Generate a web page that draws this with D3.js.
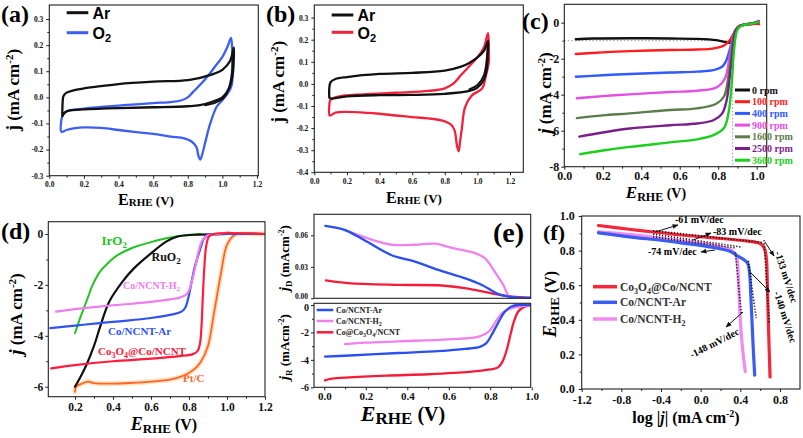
<!DOCTYPE html>
<html><head><meta charset="utf-8">
<script src="https://cdn.jsdelivr.net/npm/d3@7"></script>
<style>body{margin:0;background:#fff}svg{display:block}</style>
</head><body><script>
// ================= DATA =================
// (a) CV, Co3O4@Co/NCNT in Ar / O2
const aTicksX=[0,0.2,0.4,0.6,0.8,1.0,1.2];
const aTicksY=[-0.3,-0.2,-0.1,0.0,0.1,0.2,0.3];
const aLegend=["Ar","O2"];
const aAr=[[0.075,-0.072],[0.09,-0.058],[0.12,-0.05],[0.2,-0.046],[0.4,-0.041],[0.6,-0.038],[0.8,-0.034],[0.87,-0.03],[0.95,-0.015],[1.0,0.0],[1.035,0.03],[1.058,0.08],[1.066,0.15],[1.066,0.19],[1.045,0.14],[1.0,0.105],[0.95,0.09],[0.9,0.08],[0.8,0.066],[0.6,0.06],[0.4,0.051],[0.3,0.043],[0.2,0.034],[0.14,0.027],[0.1,0.018],[0.082,0.005],[0.077,-0.02],[0.075,-0.072]];
const aArInner=[[0.9,-0.03],[0.96,-0.02],[1.01,0.0],[1.04,0.04],[1.056,0.1],[1.06,0.16]];
const aO2=[[0.07,-0.085],[0.08,-0.065],[0.1,-0.053],[0.2,-0.043],[0.3,-0.037],[0.45,-0.029],[0.6,-0.022],[0.7,-0.018],[0.76,-0.012],[0.8,0.0],[0.83,0.02],[0.87,0.047],[0.92,0.085],[0.96,0.12],[1.0,0.155],[1.03,0.195],[1.05,0.228],[1.056,0.19],[1.058,0.12],[1.055,0.05],[1.04,0.025],[1.0,-0.01],[0.967,-0.036],[0.93,-0.1],[0.9,-0.175],[0.885,-0.215],[0.872,-0.238],[0.862,-0.225],[0.85,-0.19],[0.82,-0.168],[0.78,-0.157],[0.7,-0.15],[0.6,-0.14],[0.5,-0.133],[0.4,-0.125],[0.3,-0.117],[0.2,-0.115],[0.15,-0.118],[0.1,-0.125],[0.07,-0.132],[0.07,-0.085]];

// (b) CV, Co/NCNT in Ar / O2
const bTicksY=[-0.4,-0.3,-0.2,-0.1,0.0,0.1,0.2,0.3];
const bAr=[[0.092,-0.062],[0.1,-0.066],[0.2,-0.056],[0.4,-0.051],[0.6,-0.05],[0.8,-0.045],[0.95,-0.032],[1.0,-0.017],[1.04,0.02],[1.058,0.07],[1.064,0.14],[1.066,0.195],[1.04,0.15],[1.0,0.12],[0.95,0.095],[0.9,0.078],[0.8,0.06],[0.6,0.05],[0.4,0.045],[0.2,0.031],[0.13,0.022],[0.1,0.008],[0.092,-0.02],[0.092,-0.062]];
const bArInner=[[0.95,-0.025],[1.0,-0.005],[1.04,0.04],[1.058,0.12],[1.062,0.18]];
const bO2=[[0.092,-0.1],[0.1,-0.072],[0.15,-0.057],[0.3,-0.047],[0.5,-0.04],[0.7,-0.032],[0.8,-0.02],[0.85,0.0],[0.9,0.04],[0.95,0.08],[1.0,0.12],[1.04,0.165],[1.065,0.23],[1.07,0.16],[1.07,0.1],[1.05,0.03],[1.03,-0.02],[0.965,-0.053],[0.924,-0.106],[0.905,-0.2],[0.894,-0.26],[0.885,-0.305],[0.875,-0.28],[0.86,-0.21],[0.84,-0.185],[0.78,-0.165],[0.6,-0.15],[0.5,-0.143],[0.4,-0.135],[0.3,-0.13],[0.2,-0.127],[0.13,-0.13],[0.095,-0.143],[0.092,-0.1]];

// (c) LSV at different rotation rates
const cTicksX=[0,0.2,0.4,0.6,0.8,1.0];
const cTicksY=[-8,-6,-4,-2,0];
const cRpm=["0 rpm","100 rpm","400 rpm","900 rpm","1600 rpm","2500 rpm","3600 rpm"];
const c0=[[0.06,-0.92],[0.15,-0.88],[0.34,-0.86],[0.55,-0.88],[0.69,-0.9],[0.79,-0.97],[0.84,-1.08],[0.862,-1.1],[0.875,-0.85],[0.885,-0.55],[0.9,-0.28],[0.92,-0.15],[0.95,-0.09],[0.98,-0.05],[1.0,0.02],[1.01,0.08]];
const c100=[[0.06,-1.74],[0.2,-1.65],[0.34,-1.58],[0.55,-1.52],[0.69,-1.49],[0.77,-1.44],[0.83,-1.27],[0.86,-0.98],[0.88,-0.6],[0.895,-0.32],[0.91,-0.18],[0.94,-0.12],[0.97,-0.09],[1.0,-0.06],[1.012,-0.08]];
const c400=[[0.06,-3.0],[0.2,-2.92],[0.34,-2.85],[0.55,-2.77],[0.69,-2.72],[0.78,-2.62],[0.82,-2.45],[0.84,-2.15],[0.86,-1.5],[0.875,-0.9],[0.89,-0.45],[0.91,-0.2],[0.94,-0.1],[0.97,-0.05],[1.0,0.05],[1.01,0.1]];
const c900=[[0.065,-4.2],[0.2,-4.08],[0.34,-3.98],[0.55,-3.85],[0.69,-3.78],[0.79,-3.6],[0.835,-3.1],[0.856,-2.1],[0.875,-0.9],[0.89,-0.45],[0.91,-0.2],[0.94,-0.1],[0.97,-0.05],[1.0,0.03],[1.01,0.08]];
const c1600=[[0.065,-5.3],[0.2,-5.15],[0.34,-5.04],[0.55,-4.85],[0.69,-4.76],[0.79,-4.5],[0.83,-4.1],[0.853,-3.0],[0.87,-1.55],[0.882,-0.6],[0.9,-0.3],[0.92,-0.15],[0.95,-0.08],[0.98,-0.03],[1.01,0.05]];
const c2500=[[0.078,-6.33],[0.2,-6.1],[0.34,-5.88],[0.55,-5.7],[0.69,-5.6],[0.775,-5.42],[0.82,-5.05],[0.844,-4.3],[0.86,-3.0],[0.875,-1.55],[0.886,-0.6],[0.9,-0.3],[0.92,-0.15],[0.95,-0.08],[0.98,-0.03],[1.01,0.05]];
const c3600=[[0.082,-7.3],[0.2,-7.1],[0.34,-6.9],[0.55,-6.65],[0.69,-6.48],[0.775,-6.25],[0.83,-5.85],[0.853,-5.05],[0.87,-3.4],[0.882,-1.55],[0.896,-0.5],[0.91,-0.25],[0.93,-0.13],[0.96,-0.07],[0.99,-0.02],[1.01,0.04]];
const cGuideJ=-1, cGuideE=0.875;

// (d) ORR/OER comparison
const dTicksX=[0.2,0.4,0.6,0.8,1.0,1.2];
const dTicksY=[-6,-4,-2,0];
const dNames=["IrO2","RuO2","Co/NCNT-H2","Co/NCNT-Ar","Co3O4@Co/NCNT","Pt/C"];
const dIrO2=[[0.2,-3.9],[0.22,-3.45],[0.24,-3.05],[0.27,-2.45],[0.29,-2.05],[0.33,-1.5],[0.38,-1.1],[0.42,-0.85],[0.51,-0.52],[0.6,-0.32],[0.68,-0.17],[0.77,-0.06],[0.86,0.0]];
const dRuO2=[[0.2,-6.0],[0.23,-5.6],[0.26,-5.15],[0.3,-4.4],[0.33,-3.7],[0.38,-2.66],[0.45,-1.87],[0.51,-1.35],[0.6,-0.76],[0.68,-0.3],[0.74,-0.1],[0.83,-0.03],[1.0,0.0],[1.2,0.0]];
const dH2=[[0.1,-3.05],[0.2,-2.95],[0.3,-2.87],[0.4,-2.8],[0.5,-2.74],[0.6,-2.67],[0.7,-2.57],[0.75,-2.5],[0.79,-2.35],[0.81,-2.0],[0.83,-1.4],[0.85,-0.7],[0.87,-0.25],[0.9,-0.05],[0.95,0.0],[1.01,0.07]];
const dAr=[[0.07,-3.7],[0.2,-3.6],[0.33,-3.5],[0.45,-3.42],[0.6,-3.3],[0.72,-3.15],[0.76,-3.05],[0.78,-2.9],[0.8,-2.4],[0.814,-1.87],[0.83,-1.3],[0.849,-0.83],[0.865,-0.45],[0.877,-0.2],[0.9,-0.03],[0.95,0.0],[1.2,0.0]];
const dCo3O4=[[0.075,-5.28],[0.2,-5.15],[0.4,-5.0],[0.6,-4.9],[0.75,-4.8],[0.82,-4.72],[0.845,-4.6],[0.858,-4.3],[0.866,-3.6],[0.872,-2.6],[0.88,-1.4],[0.89,-0.5],[0.905,-0.1],[0.93,0.0],[1.2,0.0]];
const dPtC=[[0.2,-6.2],[0.205,-6.0],[0.23,-5.9],[0.27,-5.8],[0.3,-5.86],[0.4,-5.88],[0.5,-5.85],[0.6,-5.8],[0.7,-5.72],[0.75,-5.62],[0.79,-5.5],[0.83,-5.3],[0.86,-5.05],[0.9,-4.4],[0.93,-3.18],[0.967,-1.6],[1.0,-0.43],[1.04,-0.04],[1.1,0.0],[1.2,0.0]];

// (e) RRDE: disk (jD) and ring (jR)
const eTicksX=[0.0,0.2,0.4,0.6,0.8,1.0];
const eTicksYD=[0.00,0.03,0.06];
const eTicksYR=[-6,-4,-2,0];
const eNames=["Co/NCNT-Ar","Co/NCNT-H2","Co@Co3O4/NCNT"];
const eDAr=[[0.005,0.069],[0.1,0.065],[0.196,0.055],[0.325,0.041],[0.437,0.035],[0.55,0.027],[0.68,0.019],[0.76,0.0127],[0.84,0.004],[0.92,0.0008],[1.0,0.0005]];
const eDH2=[[0.1,0.065],[0.196,0.058],[0.26,0.054],[0.325,0.051],[0.437,0.051],[0.534,0.052],[0.614,0.048],[0.727,0.043],[0.775,0.038],[0.823,0.025],[0.863,0.0127],[0.895,0.0015],[1.0,0.0015]];
const eDCo=[[0.008,0.017],[0.116,0.0144],[0.357,0.0128],[0.566,0.0122],[0.678,0.0096],[0.807,0.0048],[0.904,0.0016],[1.0,0.0006]];
const eRAr=[[0.003,-3.76],[0.1,-3.7],[0.357,-3.5],[0.55,-3.36],[0.68,-3.2],[0.75,-3.05],[0.78,-2.8],[0.806,-2.2],[0.838,-1.3],[0.87,-0.5],[0.9,-0.12],[0.93,0.0],[1.0,0.0]];
const eRH2=[[0.1,-2.85],[0.2,-2.75],[0.357,-2.65],[0.6,-2.5],[0.745,-2.3],[0.793,-1.94],[0.825,-1.25],[0.857,-0.6],[0.9,-0.24],[0.97,-0.05],[1.0,0.0]];
const eRCo=[[0.003,-5.5],[0.03,-5.38],[0.1,-5.3],[0.3,-5.15],[0.5,-5.05],[0.7,-4.88],[0.8,-4.7],[0.838,-4.55],[0.86,-4.1],[0.875,-3.5],[0.886,-2.9],[0.9,-2.0],[0.912,-1.3],[0.936,-0.45],[0.966,-0.12],[1.0,0.0]];

// (f) Tafel plots
const fTicksX=[-1.2,-0.8,-0.4,0.0,0.4,0.8];
const fTicksY=[0.0,0.2,0.4,0.6,0.8,1.0];
const fNames=["Co3O4@Co/NCNT","Co/NCNT-Ar","Co/NCNT-H2"];
const fCo=[[-1.03,0.945],[-0.7,0.922],[-0.4,0.903],[-0.2,0.89],[0.13,0.874],[0.46,0.856],[0.58,0.845],[0.625,0.83],[0.65,0.8],[0.665,0.74],[0.672,0.62],[0.68,0.45],[0.69,0.25],[0.7,0.07]];
const fAr=[[-1.03,0.902],[-0.7,0.878],[-0.4,0.86],[-0.2,0.845],[0.13,0.818],[0.3,0.795],[0.37,0.77],[0.43,0.75],[0.475,0.725],[0.495,0.66],[0.505,0.55],[0.515,0.43],[0.53,0.24],[0.545,0.08]];
const fH2=[[-1.03,0.908],[-0.7,0.892],[-0.4,0.872],[-0.2,0.858],[0.13,0.832],[0.3,0.805],[0.35,0.78],[0.37,0.74],[0.38,0.65],[0.395,0.45],[0.42,0.25],[0.45,0.1]];
const fFits=[[[-0.48,0.915],[0.62,0.847]],[[-0.48,0.895],[0.42,0.82]],[[-0.48,0.88],[0.35,0.815]],[[0.64,0.86],[0.69,0.38]],[[0.48,0.74],[0.56,0.41]],[[0.35,0.79],[0.41,0.43]]];
const fSlopes=["-61 mV/dec","-83 mV/dec","-74 mV/dec","-133 mV/dec","-140 mV/dec","-148 mV/dec"];

// ================= DRAWING =================
const SERIF="'Liberation Serif','Times New Roman',serif";
const SANS="'Liberation Sans',Arial,sans-serif";
const svg=d3.select("body").append("svg").attr("width",803).attr("height",438)
  .style("font-family",SERIF).style("font-weight","bold");
const defs=svg.append("defs");
defs.append("marker").attr("id","arr").attr("viewBox","0 0 10 10").attr("refX",9).attr("refY",5)
  .attr("markerWidth",6).attr("markerHeight",6).attr("orient","auto")
  .append("path").attr("d","M0,1 L10,5 L0,9 z").attr("fill","#111");

const fmt=f=>v=>d3.format(f)(v).replace("\u2212","-");

function rich(parent,parts,attrs){
  const t=parent.append("text");
  for(const k in attrs) t.attr(k,attrs[k]);
  let cur=0;
  parts.forEach(p=>{
    const ts=t.append("tspan").text(p.t);
    const off=p.dy||0;
    if(off!==cur){ts.attr("dy",off-cur);cur=off;}
    if(p.s) ts.attr("font-size",p.s);
    if(p.i) ts.attr("font-style","italic");
    if(p.fill) ts.attr("fill",p.fill);
    if(p.f) ts.attr("font-family",p.f);
  });
  return t;
}

function styleAxis(a,fs){
  a.select(".domain").remove();
  a.selectAll("line").attr("stroke","#222");
  a.selectAll("text").attr("font-family",SERIF).attr("font-weight","bold").attr("font-size",fs).attr("fill","#111");
}

function panel(c){
  const x=d3.scaleLinear().domain(c.xd).range([c.l,c.r]);
  const y=d3.scaleLinear().domain(c.yd).range([c.b,c.t]);
  const g=svg.append("g");
  const cid="clip-"+c.id;
  defs.append("clipPath").attr("id",cid).append("rect")
    .attr("x",c.l).attr("y",c.t).attr("width",c.r-c.l).attr("height",c.b-c.t);
  const plot=g.append("g").attr("clip-path",`url(#${cid})`);
  let ya=null;
  if(c.xt){
    const a=g.append("g").attr("transform",`translate(0,${c.b})`)
      .call(d3.axisBottom(x).tickValues(c.xt).tickFormat(c.xf).tickSize(3).tickPadding(c.xp||2));
    styleAxis(a,c.xfs);
    if(c.xm){const m=g.append("g").attr("transform",`translate(0,${c.b})`)
      .call(d3.axisBottom(x).tickValues(c.xm).tickFormat("").tickSize(2));styleAxis(m,1);}
  }
  if(c.yt){
    ya=g.append("g").attr("transform",`translate(${c.l},0)`)
      .call(d3.axisLeft(y).tickValues(c.yt).tickFormat(c.yf).tickSize(3).tickPadding(c.yp||2));
    styleAxis(ya,c.yfs);
    if(c.ym){const m=g.append("g").attr("transform",`translate(${c.l},0)`)
      .call(d3.axisLeft(y).tickValues(c.ym).tickFormat("").tickSize(2));styleAxis(m,1);}
  }
  g.append("rect").attr("x",c.l).attr("y",c.t).attr("width",c.r-c.l).attr("height",c.b-c.t)
    .attr("fill","none").attr("stroke","#222").attr("stroke-width",1.1);
  return {x,y,g,plot,ya};
}
function line(P,data,color,w,extra){
  const p=P.plot.append("path").datum(data)
    .attr("d",d3.line().x(d=>P.x(d[0])).y(d=>P.y(d[1])).curve(d3.curveCatmullRom.alpha(0.5)))
    .attr("fill","none").attr("stroke",color).attr("stroke-width",w)
    .attr("stroke-linejoin","round").attr("stroke-linecap","round");
  if(extra) extra(p);
  return p;
}
const mid=(arr)=>arr.slice(1).map((v,i)=>(v+arr[i])/2);

// ---------- (a) ----------
{
  const P=panel({id:"a",l:49.3,r:258.3,t:5,b:175.7,xd:[0,1.2075],yd:[-0.3,0.3536],
    xt:aTicksX,xf:fmt(".1f"),xfs:7.5,xp:3,xm:mid(aTicksX),
    yt:aTicksY,yf:fmt(".1f"),yfs:7.5,yp:3,ym:mid(aTicksY)});
  const BLUE="#3d5ef2";
  line(P,aO2,BLUE,2.3);
  line(P,aAr,"#111",2.3);
  line(P,aArInner,"#111",2);
  svg.append("line").attr("x1",66.7).attr("x2",88.3).attr("y1",12.7).attr("y2",12.7).attr("stroke","#111").attr("stroke-width",3);
  svg.append("line").attr("x1",66.7).attr("x2",88.3).attr("y1",32.7).attr("y2",32.7).attr("stroke",BLUE).attr("stroke-width",3);
  svg.append("text").attr("x",92.5).attr("y",19).attr("font-family",SANS).attr("font-size",16).text(aLegend[0]);
  rich(svg,[{t:"O"},{t:"2",s:11,dy:3}],{x:92.5,y:38.5,"font-family":SANS,"font-size":16});
  svg.append("text").attr("x",1).attr("y",22).attr("font-size",24).text("(a)");
  rich(svg,[{t:"j",s:18},{t:" (mA cm",s:17},{t:"-2",s:11,dy:-6},{t:")",s:17}],
    {transform:"translate(19,90) rotate(-90)","text-anchor":"middle"});
  rich(svg,[{t:"E",s:16},{t:"RHE",s:11,dy:1},{t:" (V)",s:13}],{x:146,y:205,"text-anchor":"middle"});
}
// ---------- (b) ----------
{
  const P=panel({id:"b",l:314.3,r:523.3,t:5,b:172.3,xd:[0,1.2815],yd:[-0.4,0.357],
    xt:aTicksX,xf:fmt(".1f"),xfs:7.5,xp:3,xm:mid(aTicksX),
    yt:bTicksY,yf:fmt(".1f"),yfs:7.5,yp:3,ym:mid(bTicksY)});
  const RED="#f0223e";
  line(P,bO2,RED,2.3);
  line(P,bAr,"#111",2.3);
  line(P,bArInner,"#111",1.8);
  svg.append("line").attr("x1",331.7).attr("x2",353.3).attr("y1",15).attr("y2",15).attr("stroke","#111").attr("stroke-width",3);
  svg.append("line").attr("x1",331.7).attr("x2",353.3).attr("y1",32.3).attr("y2",32.3).attr("stroke",RED).attr("stroke-width",3);
  svg.append("text").attr("x",357.5).attr("y",21).attr("font-family",SANS).attr("font-size",16).text(aLegend[0]);
  rich(svg,[{t:"O"},{t:"2",s:11,dy:3}],{x:357.5,y:38.5,"font-family":SANS,"font-size":16});
  svg.append("text").attr("x",266).attr("y",22).attr("font-size",24).text("(b)");
  rich(svg,[{t:"j",s:18},{t:" (mA cm",s:17},{t:"-2",s:11,dy:-6},{t:")",s:17}],
    {transform:"translate(284,82) rotate(-90)","text-anchor":"middle"});
  rich(svg,[{t:"E",s:16},{t:"RHE",s:11,dy:1},{t:" (V)",s:13}],{x:414,y:203,"text-anchor":"middle"});
}
// ---------- (c) ----------
{
  const P=panel({id:"c",l:564.3,r:766.7,t:4.3,b:166.7,xd:[0,1.052],yd:[-8,1.022],
    xt:cTicksX,xf:fmt(".1f"),xfs:12,xp:2,xm:mid(cTicksX),
    yt:cTicksY,yf:fmt("d"),yfs:12,yp:2,ym:mid(cTicksY)});
  const cols=["#111","#ff1c1c","#2f5bff","#e24fe2","#5b7d4c","#7b1d8a","#1ccf1c"];
  const series=[c0,c100,c400,c900,c1600,c2500,c3600];
  P.plot.append("line").attr("x1",P.x(0)).attr("x2",P.x(cGuideE)).attr("y1",P.y(cGuideJ)).attr("y2",P.y(cGuideJ))
    .attr("stroke","#999").attr("stroke-width",1).attr("stroke-dasharray","1.5,2");
  P.plot.append("line").attr("x1",P.x(cGuideE)).attr("x2",P.x(cGuideE)).attr("y1",P.y(cGuideJ)).attr("y2",P.y(-8))
    .attr("stroke","#999").attr("stroke-width",1).attr("stroke-dasharray","1.5,2");
  series.forEach((s,i)=>line(P,s,cols[i],2.4));
  cRpm.forEach((n,i)=>{
    const yy=90+i*11.7;
    svg.append("line").attr("x1",735).attr("x2",750).attr("y1",yy).attr("y2",yy).attr("stroke",cols[i]).attr("stroke-width",3);
    svg.append("text").attr("x",752).attr("y",yy+3.5).attr("font-size",10).attr("fill",cols[i]).text(n);
  });
  svg.append("text").attr("x",522).attr("y",29).attr("font-size",24).text("(c)");
  rich(svg,[{t:"j",s:19,i:1},{t:" (mA cm",s:17},{t:"-2",s:11,dy:-6},{t:")",s:17}],
    {transform:"translate(551,93) rotate(-90)","text-anchor":"middle"});
  rich(svg,[{t:"E",s:17,i:1},{t:"RHE",s:12,dy:3},{t:" (V)",s:14,dy:0}],{x:656,y:198,"text-anchor":"middle"});
}
// ---------- (d) ----------
{
  const P=panel({id:"d",l:48.3,r:265,t:221.7,b:396.7,xd:[0.0595,1.2],yd:[-6.393,0.483],
    xt:dTicksX,xf:fmt(".1f"),xfs:11.5,xp:3,xm:mid(dTicksX),
    yt:dTicksY,yf:fmt("d"),yfs:11.5,yp:2,ym:mid(dTicksY)});
  const cols=["#22c422","#111","#ee7dee","#2f52f0","#ff1c3c","#ff6428"];
  line(P,dPtC,"#ffe2bf",5);
  line(P,dPtC,cols[5],1.8);
  line(P,dIrO2,cols[0],2);
  line(P,dRuO2,cols[1],2.2);
  line(P,dAr,cols[3],2.2);
  line(P,dH2,cols[2],2.2);
  line(P,dCo3O4,cols[4],2.2);
  rich(svg,[{t:"IrO"},{t:"2",s:9,dy:3}],{x:101.5,y:245,"font-size":13,fill:cols[0]});
  rich(svg,[{t:"RuO"},{t:"2",s:9,dy:3}],{x:151.5,y:261,"font-size":12,fill:cols[1]});
  rich(svg,[{t:"Co/NCNT-H"},{t:"2",s:7,dy:2}],{x:123,y:289,"font-size":10,fill:cols[2]});
  svg.append("text").attr("x",108).attr("y",335).attr("font-size",11).attr("fill",cols[3]).text(dNames[3]);
  rich(svg,[{t:"Co"},{t:"3",s:8,dy:3},{t:"O"},{t:"4",s:8,dy:3},{t:"@Co/NCNT"}],{x:98,y:355,"font-size":11,fill:cols[4]});
  svg.append("text").attr("x",183).attr("y",382).attr("font-size",11).attr("fill",cols[5]).text(dNames[5]);
  svg.append("text").attr("x",1).attr("y",239).attr("font-size",24).text("(d)");
  rich(svg,[{t:"j",s:19,i:1},{t:" (mA cm",s:17},{t:"-2",s:11,dy:-6},{t:")",s:17}],
    {transform:"translate(22,314) rotate(-90)","text-anchor":"middle"});
  rich(svg,[{t:"E",s:18,i:1},{t:"RHE",s:13,dy:3},{t:" (V)",s:16,dy:0}],{x:164,y:430,"text-anchor":"middle"});
}
// ---------- (e) ----------
{
  const T=panel({id:"et",l:314,r:530.7,t:214.3,b:298.3,xd:[-0.0497,0.995],yd:[0,0.08],
    yt:eTicksYD,yf:fmt(".2f"),yfs:7.5,yp:3});
  T.ya.selectAll("text").filter(d=>d===0).attr("dy","0.05em");
  const B=panel({id:"eb",l:314,r:530.7,t:303.3,b:387.3,xd:[-0.0497,0.995],yd:[-6,0.124],
    xt:eTicksX,xf:fmt(".1f"),xfs:11,xp:2,xm:mid(eTicksX),
    yt:eTicksYR,yf:fmt("d"),yfs:10,yp:2,ym:mid(eTicksYR)});
  B.ya.selectAll("text").filter(d=>d===0).attr("dy","0.55em");
  const cols=["#2a4ff0","#ef82ef","#f51c3a"];
  line(T,eDCo,cols[2],2.3);
  line(T,eDH2,cols[1],2.3);
  line(T,eDAr,cols[0],2.3);
  line(B,eRCo,cols[2],2.3);
  line(B,eRH2,cols[1],2.3);
  line(B,eRAr,cols[0],2.3);
  const ly=[310,321,332.3];
  ly.forEach((yy,i)=>svg.append("line").attr("x1",316.7).attr("x2",333.3).attr("y1",yy).attr("y2",yy).attr("stroke",cols[i]).attr("stroke-width",2.5));
  svg.append("text").attr("x",336).attr("y",ly[0]+3).attr("font-size",8).attr("fill","#222").text(eNames[0]);
  rich(svg,[{t:"Co/NCNT-H"},{t:"2",s:6,dy:2}],{x:336,y:ly[1]+3,"font-size":8,fill:"#222"});
  rich(svg,[{t:"Co@Co"},{t:"3",s:6,dy:2},{t:"O"},{t:"4",s:6,dy:2},{t:"/NCNT"}],{x:336,y:ly[2]+3,"font-size":8,fill:"#222"});
  svg.append("text").attr("x",493).attr("y",242).attr("font-size",28).text("(e)");
  rich(svg,[{t:"j",s:14,i:1},{t:"D",s:9,dy:3},{t:" (mAcm",s:13},{t:"-2",s:8,dy:-5},{t:")",s:13}],
    {transform:"translate(289,258) rotate(-90)","text-anchor":"middle"});
  rich(svg,[{t:"j",s:14,i:1},{t:"R",s:9,dy:3},{t:" (mAcm",s:13},{t:"-2",s:8,dy:-5},{t:")",s:13}],
    {transform:"translate(289,347) rotate(-90)","text-anchor":"middle"});
  rich(svg,[{t:"E",s:22,i:1},{t:"RHE",s:17,dy:3},{t:" (V)",s:20,dy:0}],{x:403,y:421,"text-anchor":"middle"});
}
// ---------- (f) ----------
{
  const P=panel({id:"f",l:581.7,r:800,t:216,b:389,xd:[-1.2,1.002],yd:[0,1],
    xt:fTicksX,xf:fmt(".1f"),xfs:12,xp:3,xm:mid(fTicksX),
    yt:fTicksY,yf:fmt(".1f"),yfs:12,yp:4,ym:mid(fTicksY)});
  const cols=["#f5263a","#3a5cf0","#f08cf0"];
  line(P,fH2,cols[2],3.2);
  line(P,fAr,cols[1],3.2);
  line(P,fCo,cols[0],3.2);
  fFits.forEach(f=>line(P,f,"#111",1.6,p=>p.attr("stroke-dasharray","1.2,1.8").attr("stroke-linecap","butt")));
  const arrows=[[655,232,678,225],[693,240,711,233],[715,250,701,252],[765,242,774,256],[750,272,770,292],[743,312,726,327]];
  arrows.forEach(a=>svg.append("line").attr("x1",a[0]).attr("y1",a[1]).attr("x2",a[2]).attr("y2",a[3])
    .attr("stroke","#111").attr("stroke-width",1).attr("marker-end","url(#arr)"));
  const fs=10;
  svg.append("text").attr("x",675).attr("y",223).attr("font-size",fs).text(fSlopes[0]);
  svg.append("text").attr("x",713).attr("y",235).attr("font-size",fs).text(fSlopes[1]);
  svg.append("text").attr("x",648).attr("y",255).attr("font-size",fs).text(fSlopes[2]);
  svg.append("text").attr("transform","translate(783,278) rotate(72)").attr("text-anchor","middle").attr("font-size",fs).text(fSlopes[3]);
  svg.append("text").attr("transform","translate(782,318) rotate(72)").attr("text-anchor","middle").attr("font-size",fs).text(fSlopes[4]);
  svg.append("text").attr("transform","translate(716,346) rotate(-27)").attr("text-anchor","middle").attr("font-size",fs).text(fSlopes[5]);
  const ly=[286.7,302.3,319];
  ly.forEach((yy,i)=>svg.append("line").attr("x1",593).attr("x2",617).attr("y1",yy).attr("y2",yy).attr("stroke",cols[i]).attr("stroke-width",3.5));
  rich(svg,[{t:"Co"},{t:"3",s:8,dy:3},{t:"O"},{t:"4",s:8,dy:3},{t:"@Co/NCNT"}],{x:620,y:ly[0]+4,"font-size":11.5,fill:"#333"});
  svg.append("text").attr("x",620).attr("y",ly[1]+4).attr("font-size",11.5).attr("fill","#333").text(fNames[1]);
  rich(svg,[{t:"Co/NCNT-H"},{t:"2",s:8,dy:3}],{x:620,y:ly[2]+4,"font-size":11.5,fill:"#333"});
  svg.append("text").attr("x",543).attr("y",240).attr("font-size",22).text("(f)");
  rich(svg,[{t:"E",s:18,i:1},{t:"RHE",s:13,dy:3},{t:" (V)",s:16,dy:0}],
    {transform:"translate(556,304) rotate(-90)","text-anchor":"middle"});
  rich(svg,[{t:"log |",s:16},{t:"j",s:16,i:1},{t:"| (mA cm",s:16},{t:"-2",s:10,dy:-6},{t:")",s:16}],
    {x:686,y:423,"text-anchor":"middle"});
}
</script></body></html>
